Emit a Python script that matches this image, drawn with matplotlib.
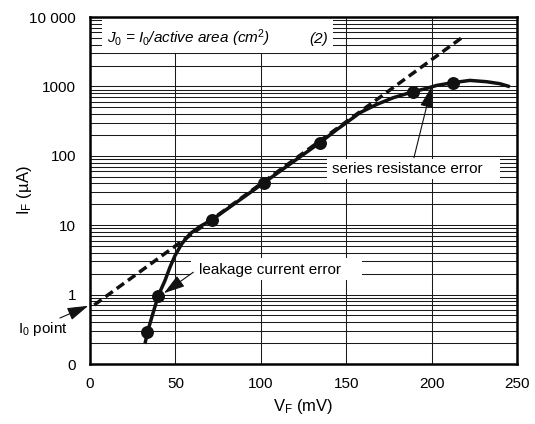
import matplotlib
matplotlib.use("Agg")
import matplotlib.pyplot as plt
from matplotlib.patches import Rectangle
from matplotlib.ticker import LogLocator, NullFormatter

plt.rcParams['font.family'] = ['Liberation Sans', 'DejaVu Sans']
plt.rcParams['mathtext.fontset'] = 'custom'
plt.rcParams['mathtext.rm'] = 'Liberation Sans'
plt.rcParams['mathtext.it'] = 'Liberation Sans:italic'
plt.rcParams['mathtext.bf'] = 'Liberation Sans:bold'

curve_v = [32.2, 33.6, 36.8, 40.0, 43.9, 46.8, 49.8, 53.7, 58.5, 64.4, 71.5,
           101.9, 134.7, 144.4, 150.3, 158.1, 167.9, 177.6, 189.3, 197.1,
           203, 212.3, 222.5, 232.3, 240, 245.9]
curve_i = [0.195, 0.286, 0.53, 0.97, 1.59, 2.47, 3.65, 5.37, 7.5, 9.6, 12.0,
           41, 155, 237, 302, 418, 550, 687, 839, 936,
           1033, 1130, 1220, 1168, 1094, 990]

point_v = [33.6, 40.0, 71.5, 101.9, 134.7, 189.3, 212.3]
point_i = [0.286, 0.97, 12.0, 41, 155, 839, 1130]

# ideal diode extrapolation (dashed)
ideal_v = [2.5, 217.6]
ideal_i = [0.71, 5000]

yticks = [0.1, 1, 10, 100, 1000, 10000]
ytick_labels = ['0', '1', '10', '100', '1000', '10 000']
xticks = [0, 50, 100, 150, 200, 250]

fig = plt.figure(figsize=(5.35, 4.24), dpi=100)
ax = fig.add_axes([0.1682, 0.1415, 0.798, 0.8184])
ax.set_yscale('log')
ax.set_xlim(0, 250)
ax.set_ylim(0.1, 10000)
ax.set_xticks(xticks)
ax.set_yticks(yticks)
ax.set_yticklabels(ytick_labels)
ax.yaxis.set_minor_locator(LogLocator(base=10, subs=range(2, 10), numticks=20))
ax.yaxis.set_minor_formatter(NullFormatter())
ax.tick_params(which='both', length=0, labelsize=11)
ax.tick_params(axis='x', pad=9)
ax.tick_params(axis='y', pad=10)
ax.set_axisbelow(True)
ax.grid(True, which='major', axis='x', color='#1a1a1a', lw=0.75)
ax.grid(True, which='both', axis='y', color='#1a1a1a', lw=0.75)
for s in ax.spines.values():
    s.set_linewidth(1.8)

ax.set_xlabel('V$_\\mathrm{F}$ (mV)', fontsize=12, labelpad=5)
ax.set_ylabel('I$_\\mathrm{F}$ (µA)', fontsize=12)
ax.yaxis.set_label_coords(-0.131, 0.5)

# white boxes behind the text
for (x0, y0, w, h) in [(0.028, 0.896, 0.541, 0.104),
                       (0.554, 0.533, 0.406, 0.058),
                       (0.237, 0.242, 0.400, 0.064)]:
    ax.add_patch(Rectangle((x0, y0), w, h, transform=ax.transAxes,
                           fc='white', ec='none', zorder=1))

ax.plot(ideal_v, ideal_i, color='#111111', lw=2.5, dashes=(2.6, 1.4), zorder=3)
ax.plot(curve_v, curve_i, color='#111111', lw=2.5, zorder=3,
        solid_capstyle='butt', solid_joinstyle='round')
ax.plot(point_v, point_i, 'o', color='#111111', ms=8.3, zorder=4)

ax.text(10, 4270, r'$J_\mathit{0}$ = $I_\mathit{0}$/active area (cm$^\mathit{2}$)',
        style='italic', fontsize=11, va='baseline', ha='left', zorder=5)
ax.text(139.5, 4270, '(2)', style='italic', fontsize=11, va='baseline',
        ha='right', zorder=5)

arrow = dict(arrowstyle='-|>,head_length=1.3,head_width=0.4', color='#111111',
             lw=0.8, mutation_scale=10, shrinkA=0, shrinkB=0)

ax.text(0.566, 0.562, 'series resistance error', transform=ax.transAxes,
        fontsize=11, va='center', ha='left', zorder=5)
ax.annotate('', xy=(200, 990), xytext=(189.7, 94), arrowprops=arrow, zorder=5)

ax.text(0.255, 0.272, 'leakage current error', transform=ax.transAxes,
        fontsize=11, va='center', ha='left', zorder=5)
ax.annotate('', xy=(43.3, 1.05), xytext=(60.5, 2.1), arrowprops=arrow, zorder=5)

ax.text(-42.2, 0.277, 'I$_\\mathrm{0}$ point', fontsize=11, va='baseline',
        ha='left', clip_on=False, zorder=5)
ax.annotate('', xy=(-1, 0.69), xytext=(-17.6, 0.46), arrowprops=arrow,
            annotation_clip=False, zorder=5)

fig.savefig('out.png', dpi=100)
